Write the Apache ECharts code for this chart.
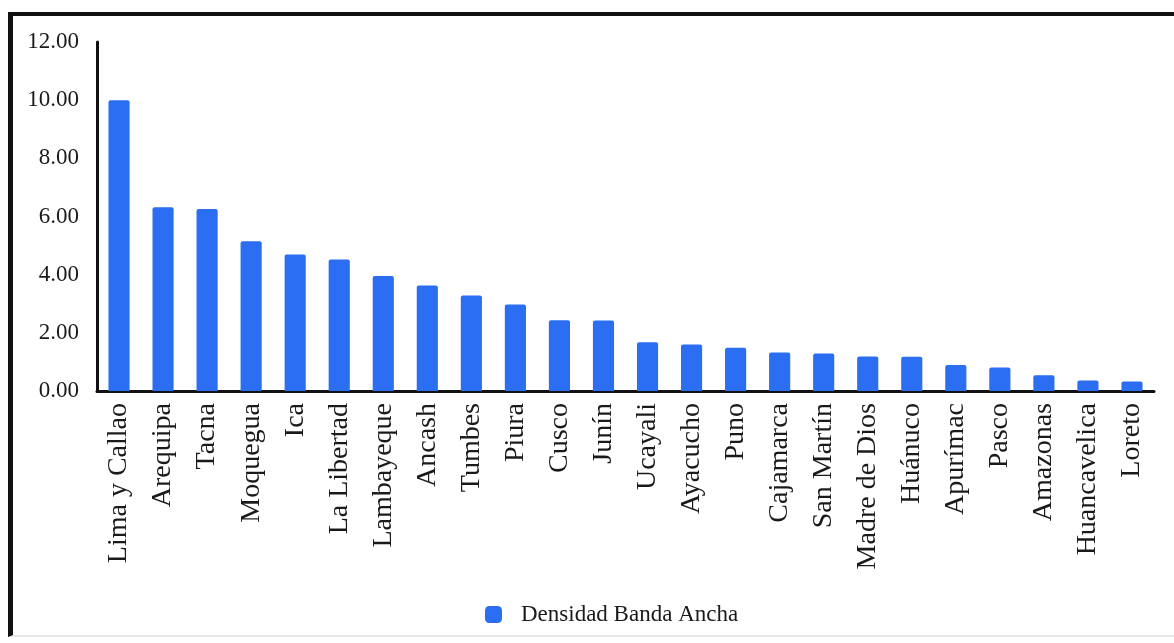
<!DOCTYPE html>
<html>
<head>
<meta charset="utf-8">
<script src="https://cdn.jsdelivr.net/npm/echarts@6/dist/echarts.min.js"></script>
<style>
  html, body { margin: 0; padding: 0; background: #fff; }
  #wrap { position: relative; width: 1174px; height: 643px; overflow: hidden; background: #fff; }
  #frame { position: absolute; left: 8px; top: 12px; width: 1170px; height: 625px;
           border-top: 4px solid #111; border-left: 5px solid #111; border-bottom: 2px solid #e6e6e6; box-sizing: border-box; }
  #chart { position: absolute; left: 0; top: 0; width: 1174px; height: 643px; }
</style>
</head>
<body>
<div id="wrap">
  <div id="frame"></div>
  <div id="chart"></div>
</div>
<script>
const categories = ['Lima y Callao', 'Arequipa', 'Tacna', 'Moquegua', 'Ica', 'La Libertad', 'Lambayeque',
  'Ancash', 'Tumbes', 'Piura', 'Cusco', 'Junín', 'Ucayali', 'Ayacucho', 'Puno', 'Cajamarca',
  'San Martín', 'Madre de Dios', 'Huánuco', 'Apurímac', 'Pasco', 'Amazonas', 'Huancavelica', 'Loreto'];
const densidad = [10.0, 6.32, 6.26, 5.15, 4.69, 4.52, 3.95, 3.63, 3.28, 2.97, 2.43, 2.42, 1.68, 1.60,
  1.49, 1.32, 1.29, 1.19, 1.18, 0.89, 0.81, 0.54, 0.36, 0.33];
const seriesName = 'Densidad Banda Ancha';
const yTicks = { min: 0, max: 12, interval: 2 };

const chart = echarts.init(document.getElementById('chart'), null, { renderer: 'canvas' });
const font = '"Liberation Serif", "Times New Roman", serif';
chart.setOption({
  backgroundColor: 'transparent',
  animation: false,
  textStyle: { fontFamily: font },
  grid: { left: 97, right: 20, top: 42, bottom: 252, containLabel: false },
  legend: {
    data: [seriesName],
    left: 480, top: 598,
    icon: 'roundRect',
    itemWidth: 17, itemHeight: 17,
    textStyle: { fontFamily: font, fontSize: 23, color: '#1a1a1a', padding: [0, 0, 0, 14] }
  },
  xAxis: {
    type: 'category',
    data: categories,
    axisLine: { lineStyle: { color: '#111', width: 3 } },
    axisTick: { show: false },
    axisLabel: { rotate: 90, interval: 0, margin: 12, fontFamily: font, fontSize: 28, color: '#1a1a1a' }
  },
  yAxis: {
    type: 'value',
    min: yTicks.min, max: yTicks.max, interval: yTicks.interval,
    splitLine: { show: false },
    axisLine: { show: true, lineStyle: { color: '#111', width: 3 } },
    axisTick: { show: false },
    axisLabel: { margin: 18, fontFamily: font, fontSize: 23, color: '#1a1a1a',
                 formatter: function (v) { return v.toFixed(2); } }
  },
  series: [{
    name: seriesName,
    type: 'bar',
    data: densidad,
    barWidth: '48%',
    itemStyle: { color: '#2b6ef2', borderRadius: [2, 2, 0, 0] }
  }]
});
</script>
</body>
</html>
